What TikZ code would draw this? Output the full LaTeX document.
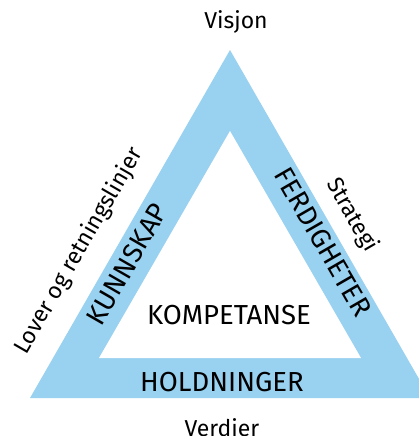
\documentclass[tikz,border=0pt]{standalone}
\usepackage{fontspec}
\setmainfont{Fira Sans}
\usetikzlibrary{positioning}
\definecolor{lightblue}{RGB}{153,209,240}

\begin{document}
\begin{tikzpicture}
[x=1pt,y=-1pt,
band/.style={fill=lightblue,draw=none},
hole/.style={fill=white,draw=none},
word/.style={inner sep=0pt,font=\fontsize{27.5}{32}\selectfont},
note/.style={inner sep=0pt,font=\fontsize{23}{28}\selectfont}]

\useasboundingbox (0,0) rectangle (419,436);
\clip (0,0) rectangle (419,436);

% corners of the two triangles
\coordinate (top) at (230,50);
\coordinate (left) at (30,398);
\coordinate (right) at (430,398);
\coordinate (itop) at (230,131);
\coordinate (ileft) at (99,358);
\coordinate (iright) at (361,358);

\fill [band] (top) -- (left) -- (right) -- cycle;
\fill [hole] (itop) -- (ileft) -- (iright) -- cycle;

% the sides
\node [word] (komp) at (229,315) {KOMPETANSE};
\node [word] (hold) at (222,382) {HOLDNINGER};
\node [word,rotate=60] (kunn) at (127,264) {KUNNSKAP};
\node [word,rotate=-60] (ferd) at (323,242) {FERDIGHETER};

% outside
\node [note] (visjon) at (236,22) {Visjon};
\node [note] (verdier) at (222,428) {Verdier};
\node [note,rotate=60] (lover) at (79,251) {Lover og retningslinjer};
\node [note,rotate=-60] (strategi) at (352,215) {Strategi};
\end{tikzpicture}
\end{document}
